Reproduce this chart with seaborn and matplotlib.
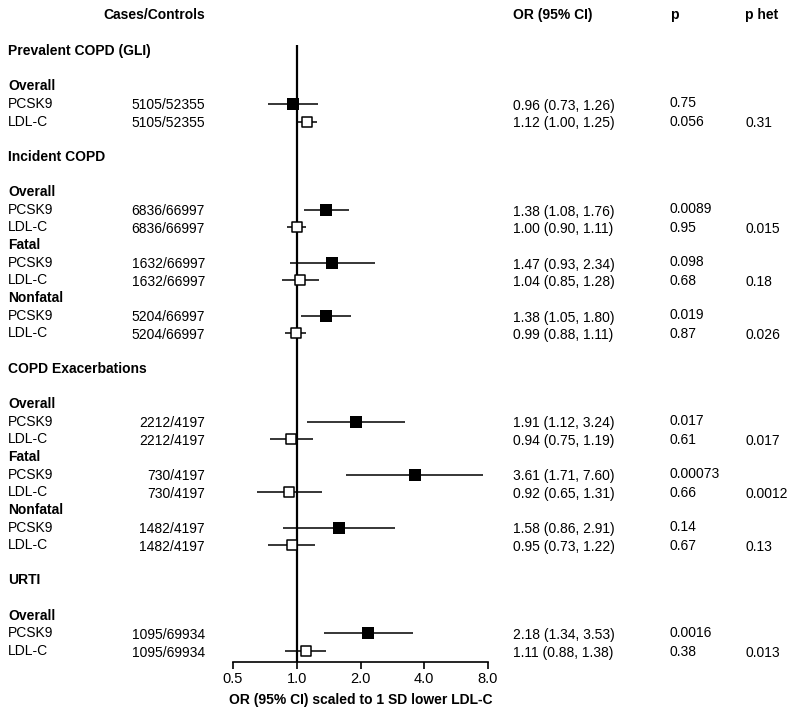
import matplotlib
matplotlib.use("Agg")
import matplotlib.pyplot as plt
import matplotlib.transforms as mtransforms
from matplotlib.ticker import NullLocator
import seaborn as sns
import pandas as pd

sns.set_theme(style="white")
plt.rcParams['font.family'] = ['Liberation Sans', 'DejaVu Sans']
plt.rcParams['text.color'] = 'black'
plt.rcParams['axes.labelcolor'] = 'black'
plt.rcParams['xtick.color'] = 'black'

# ---------------- data ----------------
header_rows = [0, 6, 18, 30]
header_labels = ["Prevalent COPD (GLI)", "Incident COPD", "COPD Exacerbations", "URTI"]

sub_rows = [2, 8, 11, 14, 20, 23, 26, 32]
sub_labels = ["Overall", "Overall", "Fatal", "Nonfatal", "Overall", "Fatal", "Nonfatal", "Overall"]

pcsk9_rows = [3, 9, 12, 15, 21, 24, 27, 33]
pcsk9_cases = ["5105/52355", "6836/66997", "1632/66997", "5204/66997",
               "2212/4197", "730/4197", "1482/4197", "1095/69934"]
pcsk9_or = [0.96, 1.38, 1.47, 1.38, 1.91, 3.61, 1.58, 2.18]
pcsk9_lo = [0.73, 1.08, 0.93, 1.05, 1.12, 1.71, 0.86, 1.34]
pcsk9_hi = [1.26, 1.76, 2.34, 1.80, 3.24, 7.60, 2.91, 3.53]
pcsk9_p = ["0.75", "0.0089", "0.098", "0.019", "0.017", "0.00073", "0.14", "0.0016"]

ldl_rows = [4, 10, 13, 16, 22, 25, 28, 34]
ldl_cases = pcsk9_cases
ldl_or = [1.12, 1.00, 1.04, 0.99, 0.94, 0.92, 0.95, 1.11]
ldl_lo = [1.00, 0.90, 0.85, 0.88, 0.75, 0.65, 0.73, 0.88]
ldl_hi = [1.25, 1.11, 1.28, 1.11, 1.19, 1.31, 1.22, 1.38]
ldl_p = ["0.056", "0.95", "0.68", "0.87", "0.61", "0.66", "0.67", "0.38"]
p_het = ["0.31", "0.015", "0.18", "0.026", "0.017", "0.0012", "0.13", "0.013"]

xticks = [0.5, 1.0, 2.0, 4.0, 8.0]
xtick_labels = ["0.5", "1.0", "2.0", "4.0", "8.0"]

# ---------------- figure ----------------
W, H = 800, 719
fig = plt.figure(figsize=(W / 100, H / 100), dpi=100)
top_px, bot_px = 45, 662
row0_px, row_step = 51, 17.65
ax = fig.add_axes([233 / W, (H - bot_px) / H, 255 / W, (bot_px - top_px) / H])

ax.set_xscale('log', base=2)
ax.set_xlim(0.5, 8.0)
ax.set_ylim((bot_px - row0_px) / row_step, (top_px - row0_px) / row_step)

# CI lines
ax.hlines(pcsk9_rows, pcsk9_lo, pcsk9_hi, color='black', lw=1.1, zorder=2)
ax.hlines(ldl_rows, ldl_lo, ldl_hi, color='black', lw=1.1, zorder=2)
ax.axvline(1.0, color='black', lw=1.6, zorder=1)

df_p = pd.DataFrame({"OR": pcsk9_or, "row": pcsk9_rows})
df_l = pd.DataFrame({"OR": ldl_or, "row": ldl_rows})
sns.scatterplot(data=df_p, x="OR", y="row", marker='s', s=85, color='black',
                edgecolor='black', linewidth=0, ax=ax, zorder=3)
sns.scatterplot(data=df_l, x="OR", y="row", marker='s', s=62, facecolor='white',
                edgecolor='black', linewidth=1.1, ax=ax, zorder=3)

ax.set_xticks(xticks)
ax.set_xticklabels(xtick_labels)
ax.xaxis.set_minor_locator(NullLocator())
ax.set_yticks([])
ax.set_ylabel("")
ax.set_xlabel("OR (95% CI) scaled to 1 SD lower LDL-C", fontsize=10, fontweight='bold',
              labelpad=5, color='black')
for s in ['left', 'right', 'top']:
    ax.spines[s].set_visible(False)
ax.spines['bottom'].set_color('black')
ax.spines['bottom'].set_linewidth(1.2)
ax.tick_params(axis='x', bottom=True, direction='out', length=5, width=1.2,
               color='black', labelsize=10.5, pad=2, labelcolor='black')
ax.set_facecolor('none')

# ---------------- text columns ----------------
tr = mtransforms.blended_transform_factory(fig.transFigure, ax.transData)
fs = 10
x_lab = 8 / W
x_cases = 205 / W
x_or = 513 / W
x_p = 670 / W
x_het = 745 / W
hdr_row = (15 - row0_px) / row_step

ax.text(x_cases, hdr_row, "Cases/Controls", transform=tr, ha='right', va='center', fontsize=fs, fontweight='bold')
ax.text(x_or, hdr_row, "OR (95% CI)", transform=tr, ha='left', va='center', fontsize=fs, fontweight='bold')
ax.text(x_p, hdr_row, "p", transform=tr, ha='left', va='center', fontsize=fs, fontweight='bold')
ax.text(x_het, hdr_row, "p het", transform=tr, ha='left', va='center', fontsize=fs, fontweight='bold')

for r, lab in zip(header_rows, header_labels):
    ax.text(x_lab, r, lab, transform=tr, ha='left', va='center', fontsize=fs, fontweight='bold')
for r, lab in zip(sub_rows, sub_labels):
    ax.text(x_lab, r, lab, transform=tr, ha='left', va='center', fontsize=fs, fontweight='bold')

for i, r in enumerate(pcsk9_rows):
    ax.text(x_lab, r, "PCSK9", transform=tr, ha='left', va='center', fontsize=fs)
    ax.text(x_cases, r + 0.08, pcsk9_cases[i], transform=tr, ha='right', va='center', fontsize=fs)
    ax.text(x_or, r + 0.1, f"{pcsk9_or[i]:.2f} ({pcsk9_lo[i]:.2f}, {pcsk9_hi[i]:.2f})",
            transform=tr, ha='left', va='center', fontsize=fs)
    ax.text(x_p, r - 0.05, pcsk9_p[i], transform=tr, ha='left', va='center', fontsize=fs)

for i, r in enumerate(ldl_rows):
    ax.text(x_lab, r, "LDL-C", transform=tr, ha='left', va='center', fontsize=fs)
    ax.text(x_cases, r + 0.08, ldl_cases[i], transform=tr, ha='right', va='center', fontsize=fs)
    ax.text(x_or, r + 0.1, f"{ldl_or[i]:.2f} ({ldl_lo[i]:.2f}, {ldl_hi[i]:.2f})",
            transform=tr, ha='left', va='center', fontsize=fs)
    ax.text(x_p, r + 0.05, ldl_p[i], transform=tr, ha='left', va='center', fontsize=fs)
    ax.text(x_het, r + 0.1, p_het[i], transform=tr, ha='left', va='center', fontsize=fs)

fig.savefig("out.png", dpi=100, facecolor='white')
